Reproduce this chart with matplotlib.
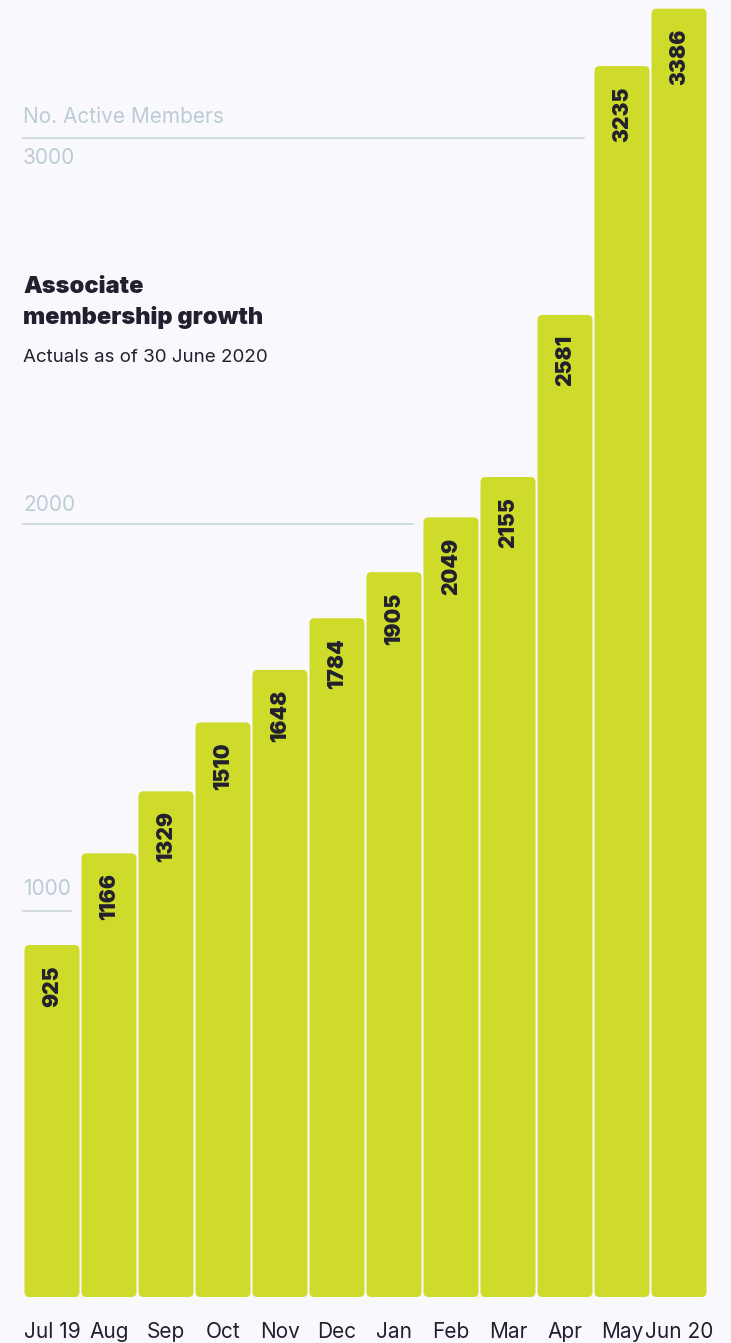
import matplotlib
matplotlib.use("Agg")
import matplotlib.pyplot as plt
from matplotlib.patches import FancyBboxPatch

# Data
months = ["Jul 19", "Aug", "Sep", "Oct", "Nov", "Dec",
          "Jan", "Feb", "Mar", "Apr", "May", "Jun 20"]
members = [925, 1166, 1329, 1510, 1648, 1784, 1905, 2049, 2155, 2581, 3235, 3386]
grid_values = [1000, 2000, 3000]

BAR_COLOR = "#CFDB2A"
TEXT_DARK = "#22202E"
GRID_COLOR = "#C8D5DB"
GRID_TEXT = "#BCCCD4"
BG = "#F9F9FD"

W, H, DPI = 731, 1343, 100
PX_X = 57.0       # pixels per bar slot
PX_Y = 0.3805     # pixels per member (bars)
PX_GRID = 0.3865  # the reference's guide lines sit on a slightly different scale
BASE = 1297       # baseline, pixels from top
LEFT = 24.5       # left edge of first bar
BAR_W = 0.965

plt.rcParams["font.family"] = ["Inter", "DejaVu Sans"]

fig = plt.figure(figsize=(W / DPI, H / DPI), dpi=DPI, facecolor=BG)
ax = fig.add_axes([0, 1 - BASE / H, 1, BASE / H])

xmin = -BAR_W / 2 - LEFT / PX_X
ax.set_xlim(xmin, xmin + W / PX_X)
ax.set_ylim(0, BASE / PX_Y)

# guide axis behind the bars
gax = fig.add_axes(ax.get_position(), sharex=ax, zorder=0)
gax.set_ylim(0, BASE / PX_GRID)
gax.axis("off")
ax.set_zorder(1)
ax.patch.set_visible(False)

x = list(range(len(months)))
x0 = xmin + 23 / PX_X

# gridlines stop just short of the first bar that covers them
for g in grid_values:
    first = next(i for i, v in enumerate(members) if v > g)
    gax.plot([x0, first - 0.66], [g, g], color=GRID_COLOR, lw=1.2)

lbl = dict(textcoords="offset points", ha="left", va="center", fontsize=15, color=GRID_TEXT)
gax.annotate("1000", (x0, 1000), xytext=(0, 15.5), **lbl)
gax.annotate("2000", (x0, 2000), xytext=(0, 14), **lbl)
gax.annotate("3000", (x0, 3000), xytext=(0, -15), **lbl)
gax.annotate("No. Active Members", (x0, 3000), xytext=(0, 14.5), **lbl)

bars = ax.bar(x, members, width=BAR_W, color=BAR_COLOR, zorder=2)
radius = 5 / PX_X
for rect in bars:
    patch = FancyBboxPatch((rect.get_x(), rect.get_y()), rect.get_width(), rect.get_height(),
                           boxstyle=f"round,pad=0,rounding_size={radius}",
                           mutation_aspect=PX_X / PX_Y, facecolor=BAR_COLOR,
                           edgecolor="none", zorder=2, clip_on=False)
    ax.add_patch(patch)
    rect.remove()

for xi, v in zip(x, members):
    ax.annotate(str(v), (xi, v), xytext=(0, -14.5), textcoords="offset points",
                rotation=90, ha="center", va="top", fontsize=15, fontweight=900,
                color=TEXT_DARK, zorder=3)

ax.set_xticks(x)
ax.set_xticklabels(months, fontsize=15, color=TEXT_DARK)
ax.tick_params(axis="x", length=0, pad=18)
ax.set_yticks([])
for s in ax.spines.values():
    s.set_visible(False)

fig.text(23 / W, 1 - 276 / H, "Associate\nmembership growth", ha="left", va="top",
         fontsize=17, fontweight=900, color=TEXT_DARK, linespacing=1.42)
fig.text(23 / W, 1 - 357 / H, "Actuals as of 30 June 2020", ha="left", va="center",
         fontsize=13.5, color=TEXT_DARK)

fig.savefig("out.png", dpi=DPI, facecolor=BG)
